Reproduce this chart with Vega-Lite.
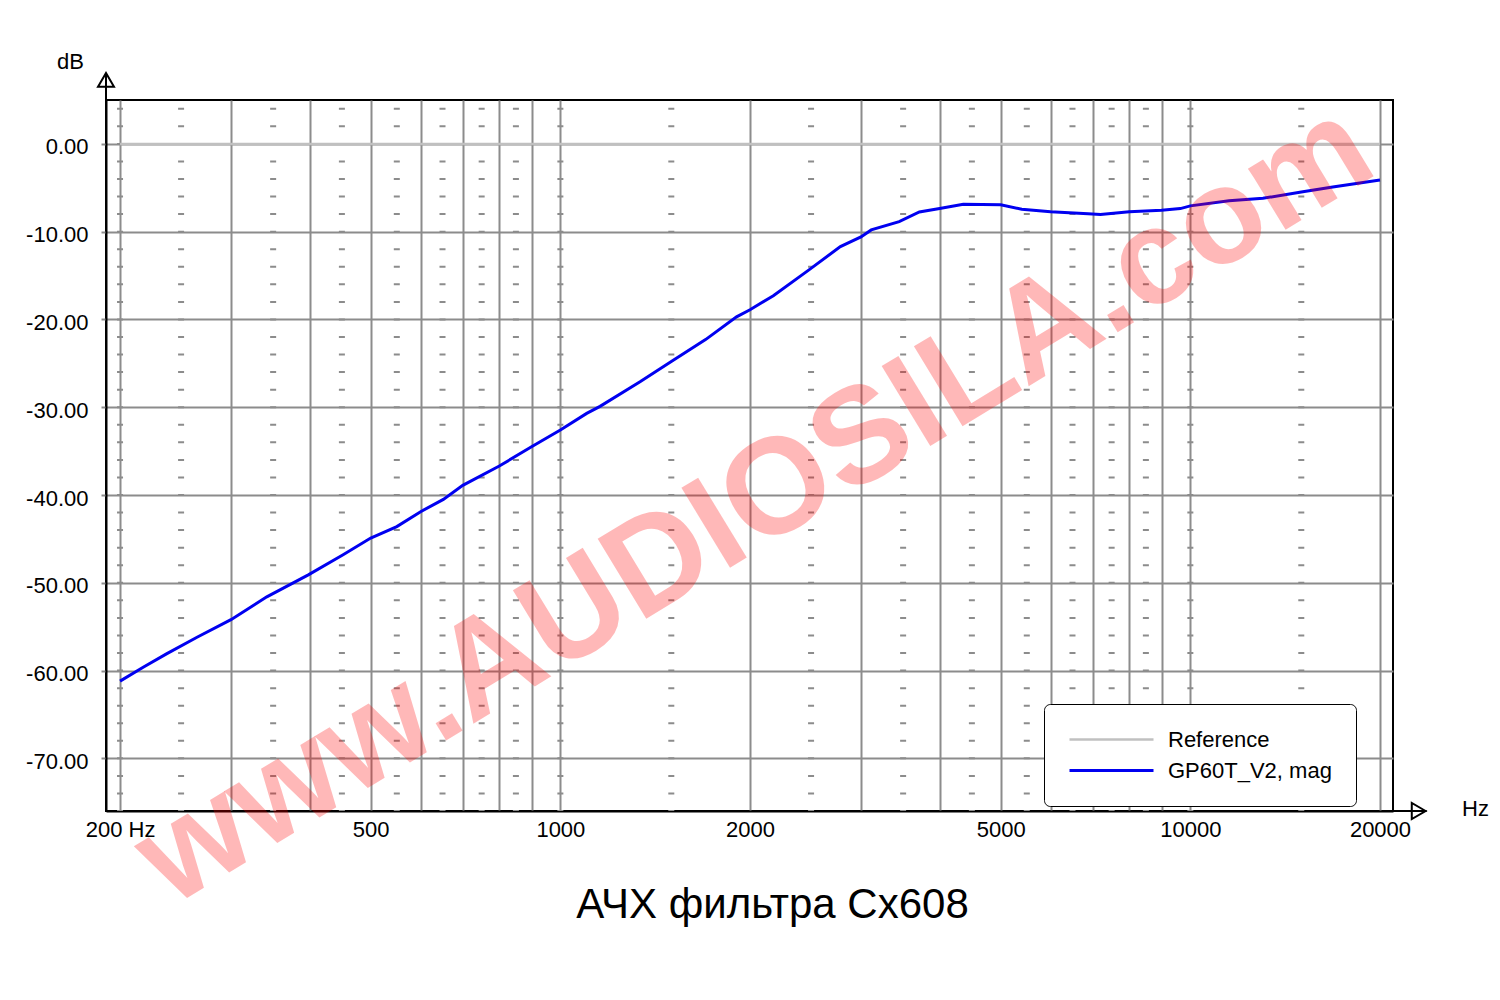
{
  "$schema": "https://vega.github.io/schema/vega-lite/v6.json",
  "width": 1287,
  "height": 711,
  "autosize": "none",
  "padding": {"left": 106, "top": 100, "right": 107, "bottom": 189},
  "background": "white",
  "config": {
    "font": "Liberation Sans",
    "view": {"stroke": "black", "strokeWidth": 2}
  },
  "title": {
    "text": "АЧХ фильтра Cx608",
    "orient": "bottom",
    "anchor": "middle",
    "frame": "group",
    "dx": 23,
    "offset": -45,
    "font": "Liberation Sans",
    "fontSize": 42,
    "fontWeight": "normal",
    "color": "black"
  },
  "datasets": {
    "curves": [
      {"series": "Reference", "f": 200, "db": 0},
      {"series": "Reference", "f": 20000, "db": 0},
      {"series": "GP60T_V2, mag", "f": 200, "db": -61.2},
      {"series": "GP60T_V2, mag", "f": 218, "db": -59.6},
      {"series": "GP60T_V2, mag", "f": 237, "db": -58.1},
      {"series": "GP60T_V2, mag", "f": 265, "db": -56.2},
      {"series": "GP60T_V2, mag", "f": 300, "db": -54.2},
      {"series": "GP60T_V2, mag", "f": 342, "db": -51.6},
      {"series": "GP60T_V2, mag", "f": 398, "db": -49.1},
      {"series": "GP60T_V2, mag", "f": 452, "db": -46.8},
      {"series": "GP60T_V2, mag", "f": 500, "db": -44.9},
      {"series": "GP60T_V2, mag", "f": 550, "db": -43.6},
      {"series": "GP60T_V2, mag", "f": 600, "db": -41.9},
      {"series": "GP60T_V2, mag", "f": 652, "db": -40.5},
      {"series": "GP60T_V2, mag", "f": 700, "db": -38.9},
      {"series": "GP60T_V2, mag", "f": 800, "db": -36.7},
      {"series": "GP60T_V2, mag", "f": 900, "db": -34.5},
      {"series": "GP60T_V2, mag", "f": 1000, "db": -32.6},
      {"series": "GP60T_V2, mag", "f": 1101, "db": -30.7},
      {"series": "GP60T_V2, mag", "f": 1156, "db": -29.9},
      {"series": "GP60T_V2, mag", "f": 1338, "db": -27.1},
      {"series": "GP60T_V2, mag", "f": 1500, "db": -24.8},
      {"series": "GP60T_V2, mag", "f": 1700, "db": -22.3},
      {"series": "GP60T_V2, mag", "f": 1904, "db": -19.7},
      {"series": "GP60T_V2, mag", "f": 2000, "db": -18.9},
      {"series": "GP60T_V2, mag", "f": 2178, "db": -17.3},
      {"series": "GP60T_V2, mag", "f": 2481, "db": -14.35},
      {"series": "GP60T_V2, mag", "f": 2783, "db": -11.7},
      {"series": "GP60T_V2, mag", "f": 3000, "db": -10.6},
      {"series": "GP60T_V2, mag", "f": 3115, "db": -9.8},
      {"series": "GP60T_V2, mag", "f": 3450, "db": -8.85},
      {"series": "GP60T_V2, mag", "f": 3714, "db": -7.76},
      {"series": "GP60T_V2, mag", "f": 4000, "db": -7.37},
      {"series": "GP60T_V2, mag", "f": 4361, "db": -6.87},
      {"series": "GP60T_V2, mag", "f": 5000, "db": -6.94},
      {"series": "GP60T_V2, mag", "f": 5400, "db": -7.45},
      {"series": "GP60T_V2, mag", "f": 6000, "db": -7.72},
      {"series": "GP60T_V2, mag", "f": 6880, "db": -7.96},
      {"series": "GP60T_V2, mag", "f": 7200, "db": -8.04},
      {"series": "GP60T_V2, mag", "f": 8000, "db": -7.72},
      {"series": "GP60T_V2, mag", "f": 9000, "db": -7.56},
      {"series": "GP60T_V2, mag", "f": 9640, "db": -7.37},
      {"series": "GP60T_V2, mag", "f": 10000, "db": -7.06},
      {"series": "GP60T_V2, mag", "f": 11520, "db": -6.47},
      {"series": "GP60T_V2, mag", "f": 13040, "db": -6.2},
      {"series": "GP60T_V2, mag", "f": 15000, "db": -5.48},
      {"series": "GP60T_V2, mag", "f": 16830, "db": -4.9},
      {"series": "GP60T_V2, mag", "f": 20000, "db": -4.11}
    ],
    "minor": [
      {"f": 200}, {"f": 250}, {"f": 350}, {"f": 450}, {"f": 550}, {"f": 650}, {"f": 750}, {"f": 850},
      {"f": 1000}, {"f": 1500}, {"f": 2500}, {"f": 3500}, {"f": 4500}, {"f": 5500}, {"f": 6500},
      {"f": 7500}, {"f": 8500}, {"f": 10000}, {"f": 15000}
    ],
    "watermark": [{"label": "www.AUDIOSILA.com", "f": 2036, "db": -41.1}],
    "one": [{}]
  },
  "layer": [
    {
      "data": {"name": "minor"},
      "mark": {"type": "rule", "color": "#8c8c8c", "strokeWidth": 6, "strokeDash": [2, 15.556], "strokeDashOffset": 9.778},
      "encoding": {
        "x": {
          "field": "f",
          "type": "quantitative",
          "scale": {"type": "log", "domain": [190, 20974], "nice": false},
          "axis": {
            "title": "Hz",
            "titleX": 1369,
            "titleY": 4,
            "titleAlign": "center",
            "titleBaseline": "alphabetic",
            "titleFontSize": 22,
            "titleFontWeight": "normal",
            "titleColor": "black",
            "values": [200, 300, 400, 500, 600, 700, 800, 900, 1000, 2000, 3000, 4000, 5000, 6000, 7000, 8000, 9000, 10000, 20000],
            "labelExpr": "indexof([200, 500, 1000, 2000, 5000, 10000, 20000], datum.value) >= 0 ? (datum.value == 200 ? '200 Hz' : format(datum.value, 'd')) : ''",
            "labelOverlap": false,
            "labelFlush": false,
            "labelBound": false,
            "labelFontSize": 22,
            "labelColor": "black",
            "labelPadding": 8,
            "ticks": false,
            "domain": true,
            "domainColor": "black",
            "domainWidth": 2,
            "grid": true,
            "gridColor": "#8c8c8c",
            "gridWidth": 2
          }
        }
      }
    },
    {
      "data": {"name": "curves"},
      "mark": {"type": "line"},
      "encoding": {
        "x": {"field": "f", "type": "quantitative"},
        "y": {
          "field": "db",
          "type": "quantitative",
          "scale": {"domain": [-76, 5], "nice": false, "zero": false},
          "axis": {
            "title": "dB",
            "titleAngle": 0,
            "titleX": -36,
            "titleY": -32,
            "titleAlign": "center",
            "titleBaseline": "alphabetic",
            "titleFontSize": 22,
            "titleFontWeight": "normal",
            "titleColor": "black",
            "values": [-70, -60, -50, -40, -30, -20, -10, 0],
            "labelExpr": "replace(format(datum.value, '.2f'), '−', '-')",
            "labelFontSize": 22,
            "labelColor": "black",
            "labelPadding": 13,
            "labelOffset": 3,
            "tickColor": "#8c8c8c",
            "tickSize": 5,
            "tickWidth": 2,
            "domain": true,
            "domainColor": "black",
            "domainWidth": 2,
            "grid": true,
            "gridColor": "#8c8c8c",
            "gridWidth": 2
          }
        },
        "color": {
          "field": "series",
          "type": "nominal",
          "scale": {"domain": ["Reference", "GP60T_V2, mag"], "range": ["#c0c0c0", "#0000f0"]},
          "legend": {
            "orient": "none",
            "legendX": 938,
            "legendY": 604,
            "title": null,
            "padding": 24,
            "strokeColor": "black",
            "cornerRadius": 6,
            "fillColor": "white",
            "symbolType": "M-1,0H7.4",
            "symbolSize": 400,
            "symbolStrokeWidth": 3,
            "labelOffset": 77,
            "labelFontSize": 22,
            "labelColor": "black",
            "labelFont": "Liberation Sans",
            "rowPadding": 8,
            "labelLimit": 400
          }
        },
        "strokeWidth": {
          "field": "series",
          "type": "nominal",
          "scale": {"domain": ["Reference", "GP60T_V2, mag"], "range": [2.5, 3]},
          "legend": null
        }
      }
    },
    {
      "data": {"name": "one"},
      "mark": {"type": "rule", "color": "black", "strokeWidth": 2},
      "encoding": {"x": {"datum": 190}, "y": {"datum": 5}, "y2": {"datum": 8.05}}
    },
    {
      "data": {"name": "one"},
      "mark": {"type": "rule", "color": "black", "strokeWidth": 2},
      "encoding": {"x": {"datum": 20974}, "x2": {"datum": 23720}, "y": {"datum": -76}}
    },
    {
      "data": {"name": "one"},
      "mark": {"type": "point", "shape": "triangle-up", "filled": false, "stroke": "black", "strokeWidth": 2, "size": 256, "opacity": 1},
      "encoding": {"x": {"datum": 190}, "y": {"datum": 7.29}}
    },
    {
      "data": {"name": "one"},
      "mark": {"type": "point", "shape": "triangle-right", "filled": false, "stroke": "black", "strokeWidth": 2, "size": 256, "opacity": 1},
      "encoding": {"x": {"datum": 23040}, "y": {"datum": -76}}
    },
    {
      "data": {"name": "watermark"},
      "mark": {"type": "text", "font": "Liberation Sans", "fontWeight": "bold", "fontSize": 136, "angle": -31.3, "align": "center", "baseline": "middle", "fill": "#ff0000", "fillOpacity": 0.28},
      "encoding": {
        "x": {"field": "f", "type": "quantitative"},
        "y": {"field": "db", "type": "quantitative"},
        "text": {"field": "label"}
      }
    }
  ]
}
